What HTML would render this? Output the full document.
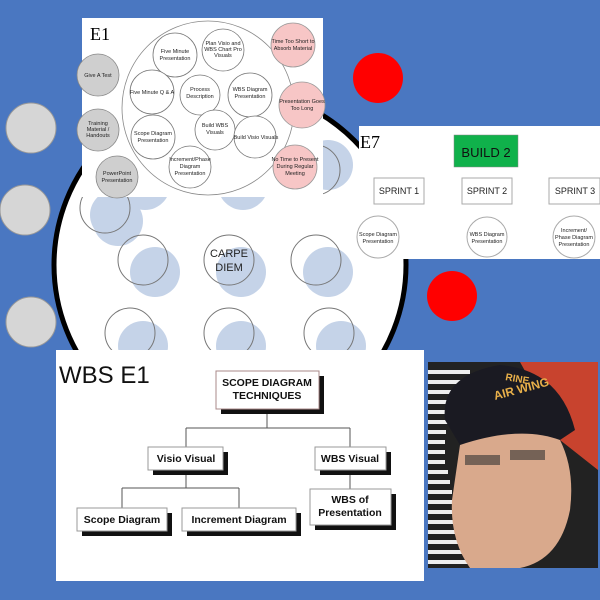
<!DOCTYPE html>
<html><head><meta charset="utf-8"><style>
html,body{margin:0;padding:0;width:600px;height:600px;overflow:hidden;background:#4a77c1}
svg{display:block}
text{font-family:"Liberation Sans",Arial,sans-serif}
</style></head><body>
<svg width="600" height="600" viewBox="0 0 600 600" xmlns="http://www.w3.org/2000/svg">
<rect width="600" height="600" fill="#4a77c1"/>
<!-- big circle -->
<circle cx="230" cy="265" r="176" fill="#fff" stroke="#000" stroke-width="5"/>
<!-- grey left circles -->
<circle cx="31" cy="128" r="25" fill="#d6d6d6" stroke="#999" stroke-width="1"/>
<circle cx="25" cy="210" r="25" fill="#d6d6d6" stroke="#999" stroke-width="1"/>
<circle cx="31" cy="322" r="25" fill="#d6d6d6" stroke="#999" stroke-width="1"/>
<!-- red circles -->
<circle cx="378" cy="78" r="25" fill="#f00"/>
<circle cx="452" cy="296" r="25" fill="#f00"/>
<!-- blue pairs -->
<g fill="#c5d3e8">
<circle cx="118" cy="221" r="25"/><circle cx="155" cy="272" r="25"/><circle cx="241" cy="272" r="25"/><circle cx="328" cy="272" r="25"/>
<circle cx="143" cy="346" r="25"/><circle cx="241" cy="346" r="25"/><circle cx="341" cy="346" r="25"/>
<circle cx="145" cy="185" r="25"/><circle cx="243" cy="185" r="25"/><circle cx="328" cy="165" r="25"/><circle cx="115" cy="215" r="25"/>
</g>
<g fill="none" stroke="#777" stroke-width="1">
<circle cx="105" cy="208" r="25"/><circle cx="143" cy="260" r="25"/><circle cx="229" cy="260" r="25"/><circle cx="316" cy="260" r="25"/>
<circle cx="130" cy="333" r="25"/><circle cx="229" cy="333" r="25"/><circle cx="329" cy="333" r="25"/>
<circle cx="315" cy="170" r="25"/>
</g>
<text x="229" y="257" font-size="11" text-anchor="middle" fill="#222">CARPE</text>
<text x="229" y="271" font-size="11" text-anchor="middle" fill="#222">DIEM</text>

<!-- E1 panel -->
<rect x="82" y="18" width="241" height="179" fill="#fff"/>
<text x="90" y="40" font-size="18" font-family="Liberation Serif" fill="#000" style="font-family:'Liberation Serif',serif">E1</text>
<ellipse cx="208" cy="108" rx="86" ry="87" fill="none" stroke="#888" stroke-width="0.8"/>
<g stroke="#777" stroke-width="0.8" fill="#fff">
<circle cx="175" cy="55" r="22"/><circle cx="223" cy="50" r="21"/>
<circle cx="152" cy="92" r="22"/><circle cx="200" cy="95" r="20"/><circle cx="250" cy="95" r="22"/>
<circle cx="215" cy="130" r="20"/><circle cx="255" cy="137" r="21"/><circle cx="153" cy="137" r="22"/>
<circle cx="190" cy="167" r="21"/>
</g>
<g stroke="#888" stroke-width="0.8" fill="#cfcfcf">
<circle cx="98" cy="75" r="21"/><circle cx="98" cy="130" r="21"/><circle cx="117" cy="177" r="21"/>
</g>
<g stroke="#999" stroke-width="0.8" fill="#f7c6c6">
<circle cx="293" cy="45" r="22"/><circle cx="302" cy="105" r="23"/><circle cx="295" cy="167" r="22"/>
</g>
<g font-size="5.5" text-anchor="middle" fill="#222">
<text x="175" y="53">Five Minute</text><text x="175" y="60">Presentation</text>
<text x="223" y="45">Plan Visio and</text><text x="223" y="51">WBS Chart Pro</text><text x="223" y="57">Visuals</text>
<text x="152" y="94">Five Minute Q &amp; A</text>
<text x="200" y="91">Process</text><text x="200" y="98">Description</text>
<text x="250" y="91">WBS Diagram</text><text x="250" y="98">Presentation</text>
<text x="215" y="127">Build WBS</text><text x="215" y="134">Visuals</text>
<text x="256" y="139">Build Visio Visuals</text>
<text x="153" y="135">Scope Diagram</text><text x="153" y="142">Presentation</text>
<text x="190" y="161">Increment/Phase</text><text x="190" y="168">Diagram</text><text x="190" y="175">Presentation</text>
<text x="98" y="77">Give A Test</text>
<text x="98" y="125">Training</text><text x="98" y="131">Material /</text><text x="98" y="137">Handouts</text>
<text x="117" y="175">PowerPoint</text><text x="117" y="182">Presentation</text>
<text x="293" y="43">Time Too Short to</text><text x="293" y="50">Absorb Material</text>
<text x="302" y="103">Presentation Goes</text><text x="302" y="110">Too Long</text>
<text x="295" y="161">No Time to Present</text><text x="295" y="168">During Regular</text><text x="295" y="175">Meeting</text>
</g>

<!-- E7 panel -->
<rect x="359" y="126" width="241" height="133" fill="#fff"/>
<text x="360" y="148" font-size="18" style="font-family:'Liberation Serif',serif">E7</text>
<rect x="454" y="135" width="64" height="32" fill="#10b14b" stroke="#888" stroke-width="0.5"/>
<text x="486" y="157" font-size="13" text-anchor="middle" fill="#111">BUILD 2</text>
<g fill="#fff" stroke="#aaa" stroke-width="1">
<rect x="374" y="178" width="50" height="26"/><rect x="462" y="178" width="50" height="26"/><rect x="549" y="178" width="51" height="26"/>
<circle cx="378" cy="237" r="21"/><circle cx="487" cy="237" r="20"/><circle cx="574" cy="237" r="21"/>
</g>
<g font-size="9" text-anchor="middle" fill="#222">
<text x="399" y="194">SPRINT 1</text><text x="487" y="194">SPRINT 2</text><text x="575" y="194">SPRINT 3</text>
</g>
<g font-size="5.5" text-anchor="middle" fill="#222">
<text x="378" y="236">Scope Diagram</text><text x="378" y="243">Presentation</text>
<text x="487" y="236">WBS Diagram</text><text x="487" y="243">Presentation</text>
<text x="574" y="232">Increment/</text><text x="574" y="239">Phase Diagram</text><text x="574" y="246">Presentation</text>
</g>

<!-- WBS panel -->
<rect x="56" y="350" width="368" height="231" fill="#fff"/>
<text x="59" y="383" font-size="24" fill="#111">WBS E1</text>
<g stroke="#555" stroke-width="1" fill="none">
<path d="M267 409V428M186 428H350M186 428V447M350 428V447M186 470V488M122 488H239M122 488V508M239 488V508M350 470V489"/>
</g>
<g fill="#111">
<rect x="221" y="376" width="103" height="38"/>
<rect x="153" y="452" width="75" height="23"/><rect x="320" y="452" width="71" height="23"/>
<rect x="82" y="513" width="90" height="23"/><rect x="187" y="513" width="114" height="23"/><rect x="315" y="494" width="81" height="36"/>
</g>
<g fill="#fff" stroke="#999" stroke-width="1">
<rect x="216" y="371" width="103" height="38" stroke="#a88"/>
<rect x="148" y="447" width="75" height="23"/><rect x="315" y="447" width="71" height="23"/>
<rect x="77" y="508" width="90" height="23"/><rect x="182" y="508" width="114" height="23"/><rect x="310" y="489" width="81" height="36"/>
</g>
<g font-size="10.5" font-weight="bold" text-anchor="middle" fill="#111">
<text x="267" y="386">SCOPE DIAGRAM</text><text x="267" y="399">TECHNIQUES</text>
<text x="186" y="462">Visio Visual</text><text x="350" y="462">WBS Visual</text>
<text x="122" y="523">Scope Diagram</text><text x="239" y="523">Increment Diagram</text>
<text x="350" y="503">WBS of</text><text x="350" y="516">Presentation</text>
</g>

<!-- photo -->
<rect x="428" y="362" width="170" height="206" fill="#222"/>
<g stroke="#eee" stroke-width="4">
<path d="M428 372H470M428 382H470M428 392H465M428 402H455M428 412H450M428 422H448M428 432H446M428 442H445M428 452H445M428 462H445M428 472H448M428 482H450M428 492H452M428 502H455M428 512H458M428 522H462M428 532H465M428 542H470M428 552H475M428 562H480"/>
</g>
<path d="M520 362H598V470L560 440L530 380Z" fill="#c8432e"/>
<path d="M445 420Q440 375 500 365Q560 370 575 430L560 440Q500 430 460 445Z" fill="#1a1a22"/>
<path d="M460 445Q520 425 560 440Q575 470 570 510Q560 560 520 568H470Q450 540 452 500Z" fill="#d9a98c"/>
<path d="M465 460H500M510 455H545" stroke="#333" stroke-width="10" opacity="0.6"/>
<text x="495" y="400" font-size="12" font-weight="bold" fill="#e8b04a" transform="rotate(-15 495 400)">AIR WING</text>
<text x="505" y="380" font-size="10" font-weight="bold" fill="#e8b04a" transform="rotate(10 505 380)">RINE</text>
</svg>
</body></html>
